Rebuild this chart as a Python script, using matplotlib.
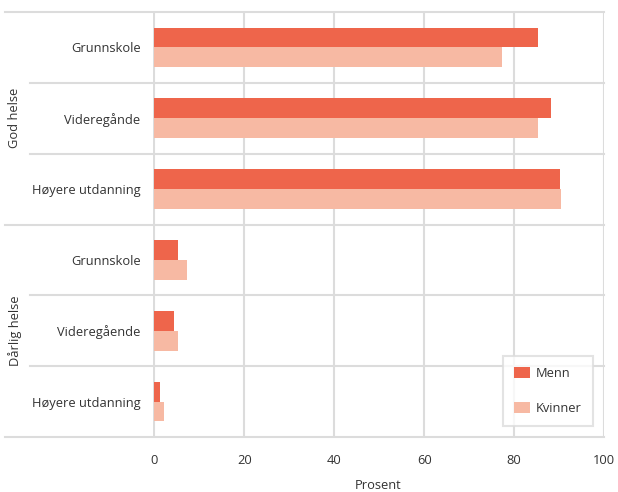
import matplotlib
matplotlib.use("Agg")
import matplotlib.pyplot as plt
import matplotlib.transforms as mtransforms

plt.rcParams['font.family'] = ['Open Sans', 'DejaVu Sans']

groups = ["God helse", "Dårlig helse"]
categories = ["Grunnskole", "Videregånde", "Høyere utdanning",
              "Grunnskole", "Videregående", "Høyere utdanning"]
menn = [85.3, 88.2, 90.3, 5.2, 4.3, 1.2]
kvinner = [77.4, 85.3, 90.5, 7.3, 5.3, 2.2]
xticks = [0, 20, 40, 60, 80, 100]

c_menn = "#EE654B"
c_kvinner = "#F7B9A3"
grid_c = "#DCDCDC"
txt_c = "#333333"
fs = 9.3

fig = plt.figure(figsize=(6.18, 4.92), dpi=100)
ax = fig.add_axes([153/618, 1-437/492, 451/618, 425/492])

n = len(categories)
ys = list(range(n))
h = 0.28
ax.barh([y - h/2 for y in ys], menn, height=h, color=c_menn, label="Menn", zorder=3)
ax.barh([y + h/2 for y in ys], kvinner, height=h, color=c_kvinner, label="Kvinner", zorder=3)

ax.set_xlim(-0.3, 100)
ax.set_ylim(n - 0.5, -0.5)
for s in ax.spines.values():
    s.set_visible(False)

for xt in xticks:
    ax.axvline(xt, color=grid_c, lw=1.5, zorder=1)

trans = mtransforms.blended_transform_factory(ax.transAxes, ax.transData)
x_outer = (5 - 153) / 451
x_inner = (30 - 153) / 451
for b in range(n + 1):
    yb = b - 0.5
    x0 = x_outer if b % 3 == 0 else x_inner
    ax.plot([x0, 1], [yb, yb], transform=trans, color=grid_c, lw=1.5,
            clip_on=False, zorder=1)

ax.set_yticks(ys)
ax.set_yticklabels(categories, fontsize=fs, color=txt_c)
ax.tick_params(axis='y', length=0, pad=9)
ax.set_xticks(xticks)
ax.set_xticklabels([str(x) for x in xticks], fontsize=fs, color=txt_c)
ax.tick_params(axis='x', length=0, pad=12)
ax.set_xlabel("Prosent", fontsize=fs, color=txt_c, labelpad=9)

xg = (15 - 153) / 451
for gi, g in enumerate(groups):
    ax.text(xg, gi * 3 + 1, g, transform=trans, rotation=90, ha='center',
            va='center', fontsize=fs, color=txt_c)

leg = ax.legend(loc='lower left', bbox_to_anchor=(0.776, 0.026), frameon=True,
                fancybox=False, fontsize=fs, labelspacing=1.7, handlelength=1.25,
                handleheight=1.0, handletextpad=0.45, borderpad=0.85,
                borderaxespad=0)
leg.get_frame().set_edgecolor(grid_c)
leg.get_frame().set_linewidth(1.5)
for t in leg.get_texts():
    t.set_color(txt_c)

fig.savefig("out.png", dpi=100)
